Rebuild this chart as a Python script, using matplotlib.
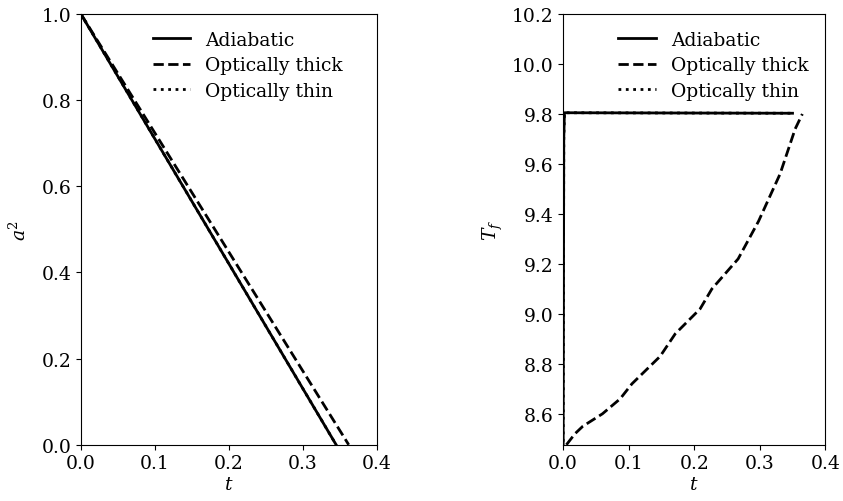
import matplotlib.pyplot as plt
import numpy as np

plt.rcParams["font.family"] = "DejaVu Serif"
plt.rcParams["mathtext.fontset"] = "dejavuserif"
plt.rcParams["font.size"] = 13.5

# radius squared vs time
t_adi = [0.0, 0.345]
a2_adi = [1.0, 0.0]
t_thick = [0.0, 0.362]
a2_thick = [1.0, 0.0]

# flame temperature vs time
tT_adi = [0.0, 0.001, 0.002, 0.35]
T_adi = [8.40, 9.70, 9.805, 9.803]
tT_thick = [0.005, 0.018, 0.03, 0.06, 0.087, 0.105, 0.148, 0.171, 0.209,
            0.227, 0.267, 0.298, 0.331, 0.354, 0.365]
T_thick = [8.476, 8.52, 8.55, 8.60, 8.66, 8.72, 8.83, 8.92, 9.02,
           9.10, 9.22, 9.37, 9.56, 9.74, 9.80]

fig = plt.figure(figsize=(8.43, 5.02), dpi=100)
ax1 = fig.add_axes([0.096, 0.112, 0.351, 0.858])
ax2 = fig.add_axes([0.668, 0.112, 0.311, 0.858])

ax1.plot(t_adi, a2_adi, "k-", lw=2, label="Adiabatic")
ax1.plot(t_thick, a2_thick, "k--", lw=2, label="Optically thick")
ax1.plot(t_adi, a2_adi, "k:", lw=2, label="Optically thin")
ax1.set_xlim(0, 0.4)
ax1.set_ylim(0, 1)
ax1.set_xticks([0, 0.1, 0.2, 0.3, 0.4])
ax1.set_xlabel("$t$", labelpad=2)
ax1.set_ylabel("$a^2$", labelpad=8)
ax1.legend(frameon=False, loc="upper right", bbox_to_anchor=(0.943, 1.0),
           labelspacing=0.4)

ax2.plot(tT_adi, T_adi, "k-", lw=2, label="Adiabatic")
ax2.plot(tT_thick, T_thick, "k--", lw=2, label="Optically thick")
ax2.plot(tT_adi, T_adi, "k:", lw=2, label="Optically thin")
ax2.set_xlim(0, 0.4)
ax2.set_ylim(8.476, 10.2)
ax2.set_xticks([0, 0.1, 0.2, 0.3, 0.4])
ax2.set_yticks(np.arange(8.6, 10.21, 0.2))
ax2.set_xlabel("$t$", labelpad=2)
ax2.set_ylabel("$T_f$", labelpad=5)
ax2.legend(frameon=False, loc="upper right", bbox_to_anchor=(1.0, 1.0),
           labelspacing=0.4)

fig.savefig("out.png", dpi=100)
